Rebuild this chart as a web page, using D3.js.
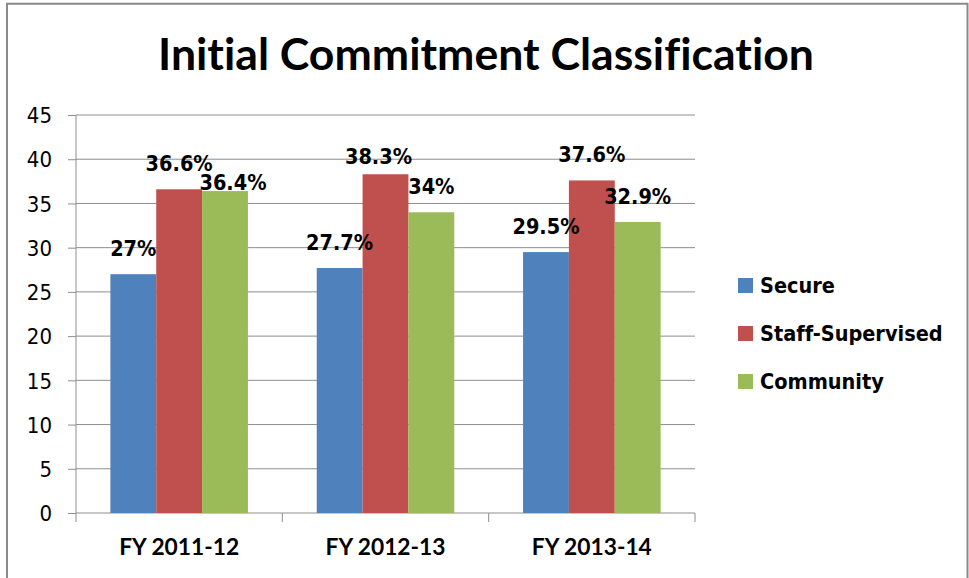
<!DOCTYPE html>
<html>
<head>
<meta charset="utf-8">
<script src="https://cdn.jsdelivr.net/npm/d3@7/dist/d3.min.js"></script>
<style>
  html, body { margin: 0; padding: 0; background: #fff; }
  svg { display: block; }
  text { font-variant-ligatures: none; font-feature-settings: "liga" 0, "clig" 0; }
  .cond { font-family: "DejaVu Sans Condensed", "DejaVu Sans", sans-serif; font-stretch: condensed; }
</style>
</head>
<body>
<svg id="chart" width="969" height="578"></svg>
<script>
const categories = ["FY 2011-12", "FY 2012-13", "FY 2013-14"];
const seriesNames = ["Secure", "Staff-Supervised", "Community"];
const secure = [27, 27.7, 29.5];
const staffSupervised = [36.6, 38.3, 37.6];
const community = [36.4, 34, 32.9];
const yTicks = [0, 5, 10, 15, 20, 25, 30, 35, 40, 45];
const colors = ["#4F81BD", "#C0504D", "#9BBB59"];
// small manual label nudges (as in the original, some labels were moved)
const labelDx = [[0, 0, 8], [0, -7, 0], [0, 0, 0]];
const labelDy = [[0, 0, 17], [0, 8, 0], [0, 0, 0]];

const seriesValues = [secure, staffSupervised, community];

const svg = d3.select("#chart");
const W = 969, H = 578;
svg.append("rect").attr("width", W).attr("height", H).attr("fill", "#fff");

// outer frame
svg.append("path")
  .attr("d", `M7,${H} L7,3.7 L967.5,3.7 L967.5,${H}`)
  .attr("fill", "none").attr("stroke", "#8a8a8a").attr("stroke-width", 2);

const plot = { left: 76, right: 695, top: 115, bottom: 513 };

const x = d3.scaleBand().domain(categories).range([plot.left, plot.right]).padding(0);
const xs = d3.scaleBand().domain(seriesNames).range([0, x.bandwidth()])
  .paddingInner(0).paddingOuter(0.75);
const y = d3.scaleLinear().domain([0, 45]).range([plot.bottom, plot.top]);

// gridlines
svg.append("g").selectAll("line").data(yTicks.filter(t => t > 0)).join("line")
  .attr("x1", plot.left).attr("x2", plot.right)
  .attr("y1", d => y(d)).attr("y2", d => y(d))
  .attr("stroke", "#8e8e8e").attr("stroke-width", 1);

// y axis
const yAxis = d3.axisLeft(y).tickValues(yTicks).tickSize(8).tickPadding(16).tickFormat(d3.format("d"));
const gy = svg.append("g").attr("transform", `translate(${plot.left},0)`).call(yAxis);
gy.select(".domain").attr("stroke", "#8e8e8e").attr("d", `M0,${plot.bottom}V${plot.top}`);
gy.selectAll(".tick line").attr("stroke", "#8e8e8e");
gy.selectAll(".tick text")
  .attr("class", "cond")
  .attr("font-size", 22).attr("fill", "#000")
  .attr("dy", "0.35em");

// x axis
const xAxis = d3.axisBottom(x).tickSize(0).tickFormat("");
const gx = svg.append("g").attr("transform", `translate(0,${plot.bottom})`).call(xAxis);
gx.select(".domain").attr("stroke", "#8e8e8e").attr("d", `M${plot.left},0H${plot.right}`);
gx.selectAll(".tick").remove();
// band boundary ticks
const boundaries = categories.map(c => x(c)).concat([x(categories[categories.length - 1]) + x.bandwidth()]);
gx.selectAll("line.bt").data(boundaries).join("line").attr("class", "bt")
  .attr("x1", d => d).attr("x2", d => d).attr("y1", 0).attr("y2", 9)
  .attr("stroke", "#8e8e8e");

// category labels
svg.append("g").selectAll("text").data(categories).join("text")
  .attr("x", d => x(d) + x.bandwidth() / 2)
  .attr("y", 555)
  .attr("text-anchor", "middle")
  .attr("font-family", "Lato, 'Open Sans', sans-serif")
  .attr("font-weight", "bold")
  .attr("font-size", 22)
  .attr("textLength", 120).attr("lengthAdjust", "spacingAndGlyphs")
  .text(d => d);

// bars
const bars = [];
categories.forEach((c, ci) => {
  seriesNames.forEach((s, si) => {
    bars.push({ c, ci, s, si, v: seriesValues[si][ci] });
  });
});

svg.append("g").selectAll("rect").data(bars).join("rect")
  .attr("x", d => x(d.c) + xs(d.s))
  .attr("width", xs.bandwidth())
  .attr("y", d => y(d.v))
  .attr("height", d => y(0) - y(d.v))
  .attr("fill", d => colors[d.si]);

// data labels
svg.append("g").selectAll("text").data(bars).join("text")
  .attr("class", "cond")
  .attr("x", d => x(d.c) + xs(d.s) + xs.bandwidth() / 2 + labelDx[d.ci][d.si])
  .attr("y", d => y(d.v) - 26 + labelDy[d.ci][d.si] + 7.5)
  .attr("text-anchor", "middle")
  .attr("font-weight", "bold")
  .attr("font-size", 21.5)
  .attr("fill", "#000")
  .text(d => d.v + "%");

// title
svg.append("text")
  .attr("x", 158).attr("y", 69.5)
  .attr("font-family", "Lato, 'Open Sans', sans-serif")
  .attr("font-weight", "bold")
  .attr("font-size", 43)
  .attr("textLength", 656).attr("lengthAdjust", "spacingAndGlyphs")
  .text("Initial Commitment Classification");

// legend
const legendY = [285.5, 333.5, 381.5];
const lg = svg.append("g").selectAll("g").data(seriesNames).join("g")
  .attr("transform", (d, i) => `translate(738,${legendY[i]})`);
lg.append("rect").attr("x", 0).attr("y", -7.5).attr("width", 15).attr("height", 15)
  .attr("fill", (d, i) => colors[i]);
lg.append("text").attr("class", "cond")
  .attr("x", 22).attr("y", 7.5)
  .attr("font-weight", "bold").attr("font-size", 21.5).attr("fill", "#000")
  .text(d => d);
</script>
</body>
</html>
